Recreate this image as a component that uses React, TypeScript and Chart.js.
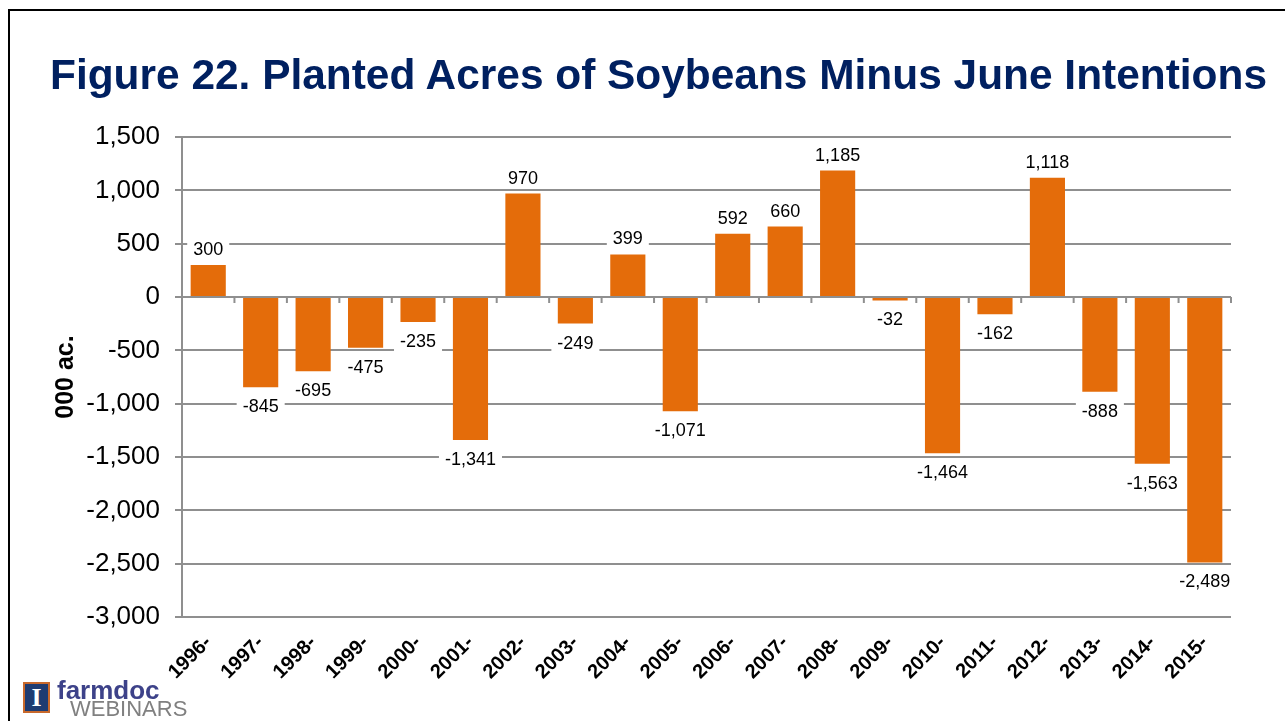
import React, { useEffect, useLayoutEffect, useRef } from "react";
import { Chart, registerables } from "chart.js";

Chart.register(...registerables);

const TITLE = "Figure 22. Planted Acres of Soybeans Minus June Intentions";
const Y_TITLE = "000 ac.";
const years = [
  "1996-", "1997-", "1998-", "1999-", "2000-", "2001-", "2002-", "2003-", "2004-", "2005-",
  "2006-", "2007-", "2008-", "2009-", "2010-", "2011-", "2012-", "2013-", "2014-", "2015-",
];
const plantedMinusJune = [
  300, -845, -695, -475, -235, -1341, 970, -249, 399, -1071,
  592, 660, 1185, -32, -1464, -162, 1118, -888, -1563, -2489,
];
const yMin = -3000;
const yMax = 1500;
const yStep = 500;

const FONT = '"Liberation Sans", Arial, Helvetica, sans-serif';
const GRID = "#8f8f8f";
const BAR = "#E46C0A";

const fmt = (v: number) => v.toLocaleString("en-US");

const labelPlugin = {
  id: "barLabels",
  afterDatasetsDraw(chart: any) {
    const { ctx } = chart;
    const xs = chart.scales.x;
    const ys = chart.scales.y;
    const meta = chart.getDatasetMeta(0);
    ctx.save();
    // tick marks on the zero line at category boundaries
    const y0 = ys.getPixelForValue(0);
    const step = xs.getPixelForValue(1) - xs.getPixelForValue(0);
    const first = xs.getPixelForValue(0) - step / 2;
    ctx.strokeStyle = GRID;
    ctx.lineWidth = 2;
    for (let i = 0; i <= years.length; i++) {
      const px = first + i * step;
      ctx.beginPath();
      ctx.moveTo(px, y0);
      ctx.lineTo(px, y0 + 6);
      ctx.stroke();
    }
    ctx.font = "18px " + FONT;
    ctx.textAlign = "center";
    ctx.textBaseline = "middle";
    meta.data.forEach((el: any, i: number) => {
      const v = plantedMinusJune[i];
      const text = fmt(v);
      const cy = v >= 0 ? el.y - 16 : el.y + 19;
      const w = ctx.measureText(text).width + 12;
      ctx.fillStyle = "#ffffff";
      ctx.fillRect(el.x - w / 2, cy - 11, w, 22);
      ctx.fillStyle = "#000000";
      ctx.fillText(text, el.x, cy + 1);
    });
    ctx.restore();
  },
};

export default function App() {
  const canvasRef = useRef<HTMLCanvasElement | null>(null);
  const titleRef = useRef<HTMLSpanElement | null>(null);

  useLayoutEffect(() => {
    const t = titleRef.current;
    if (t) {
      const w = t.getBoundingClientRect().width;
      if (w > 0) t.style.transform = `scaleX(${1217 / w})`;
    }
  }, []);

  useEffect(() => {
    if (!canvasRef.current) return;
    Chart.defaults.font.family = FONT;
    const chart = new Chart(canvasRef.current, {
      type: "bar",
      data: {
        labels: years,
        datasets: [
          {
            data: plantedMinusJune,
            backgroundColor: BAR,
            borderWidth: 0,
            barPercentage: 0.67,
            categoryPercentage: 1,
          },
        ],
      },
      options: {
        responsive: false,
        animation: false,
        devicePixelRatio: 1,
        layout: { padding: { top: 137, left: 0, right: 54, bottom: 0 } },
        plugins: {
          legend: { display: false },
          title: { display: false },
          tooltip: { enabled: false },
        },
        scales: {
          x: {
            grid: { display: false, drawTicks: false },
            border: { display: false },
            ticks: {
              autoSkip: false,
              maxRotation: 45,
              minRotation: 45,
              padding: 14,
              color: "#000",
              font: { size: 20, weight: "bold" },
            },
            afterFit: (s: any) => {
              s.height = 104;
            },
          },
          y: {
            min: yMin,
            max: yMax,
            ticks: {
              stepSize: yStep,
              color: "#000",
              padding: 15,
              font: { size: 26 },
              callback: (v: any) => fmt(Number(v)),
            },
            grid: { color: GRID, lineWidth: 2, tickLength: 7, drawTicks: true },
            border: { display: true, color: GRID, width: 2 },
            title: {
              display: true,
              text: Y_TITLE,
              color: "#000",
              font: { size: 25, weight: "bold" },
              padding: { top: 51, bottom: 0 },
            },
            afterFit: (s: any) => {
              s.width = 182;
            },
          },
        },
      },
      plugins: [labelPlugin],
    });
    return () => chart.destroy();
  }, []);

  return (
    <div style={{ position: "fixed", left: 0, top: 0, width: 1285, height: 721, overflow: "hidden", background: "#fff" }}>
      <div
        style={{
          position: "absolute",
          left: 8,
          top: 9,
          width: 1400,
          height: 800,
          borderTop: "2px solid #000",
          borderLeft: "2px solid #000",
        }}
      />
      <canvas
        ref={canvasRef}
        width={1285}
        height={721}
        style={{ position: "absolute", left: 0, top: 0, width: 1285, height: 721 }}
      />
      <span
        ref={titleRef}
        style={{
          position: "absolute",
          left: 50,
          top: 54,
          fontFamily: FONT,
          fontWeight: "bold",
          fontSize: 42,
          lineHeight: "42px",
          color: "#002060",
          whiteSpace: "nowrap",
          transformOrigin: "0 0",
        }}
      >
        {TITLE}
      </span>
      <div
        style={{
          position: "absolute",
          left: 23,
          top: 682,
          width: 23,
          height: 27,
          background: "#1e3c72",
          border: "2px solid #c8692c",
          color: "#fff",
          fontFamily: '"Liberation Serif", "DejaVu Serif", serif',
          fontWeight: "bold",
          fontSize: 26,
          lineHeight: "27px",
          textAlign: "center",
        }}
      >
        I
      </div>
      <span
        style={{
          position: "absolute",
          left: 57,
          top: 677,
          fontFamily: FONT,
          fontWeight: "bold",
          fontSize: 26,
          lineHeight: "26px",
          color: "#3d4289",
          whiteSpace: "nowrap",
        }}
      >
        farmdoc
      </span>
      <span
        style={{
          position: "absolute",
          left: 70,
          top: 698,
          fontFamily: FONT,
          fontSize: 22,
          lineHeight: "22px",
          color: "#808080",
          whiteSpace: "nowrap",
        }}
      >
        WEBINARS
      </span>
    </div>
  );
}
